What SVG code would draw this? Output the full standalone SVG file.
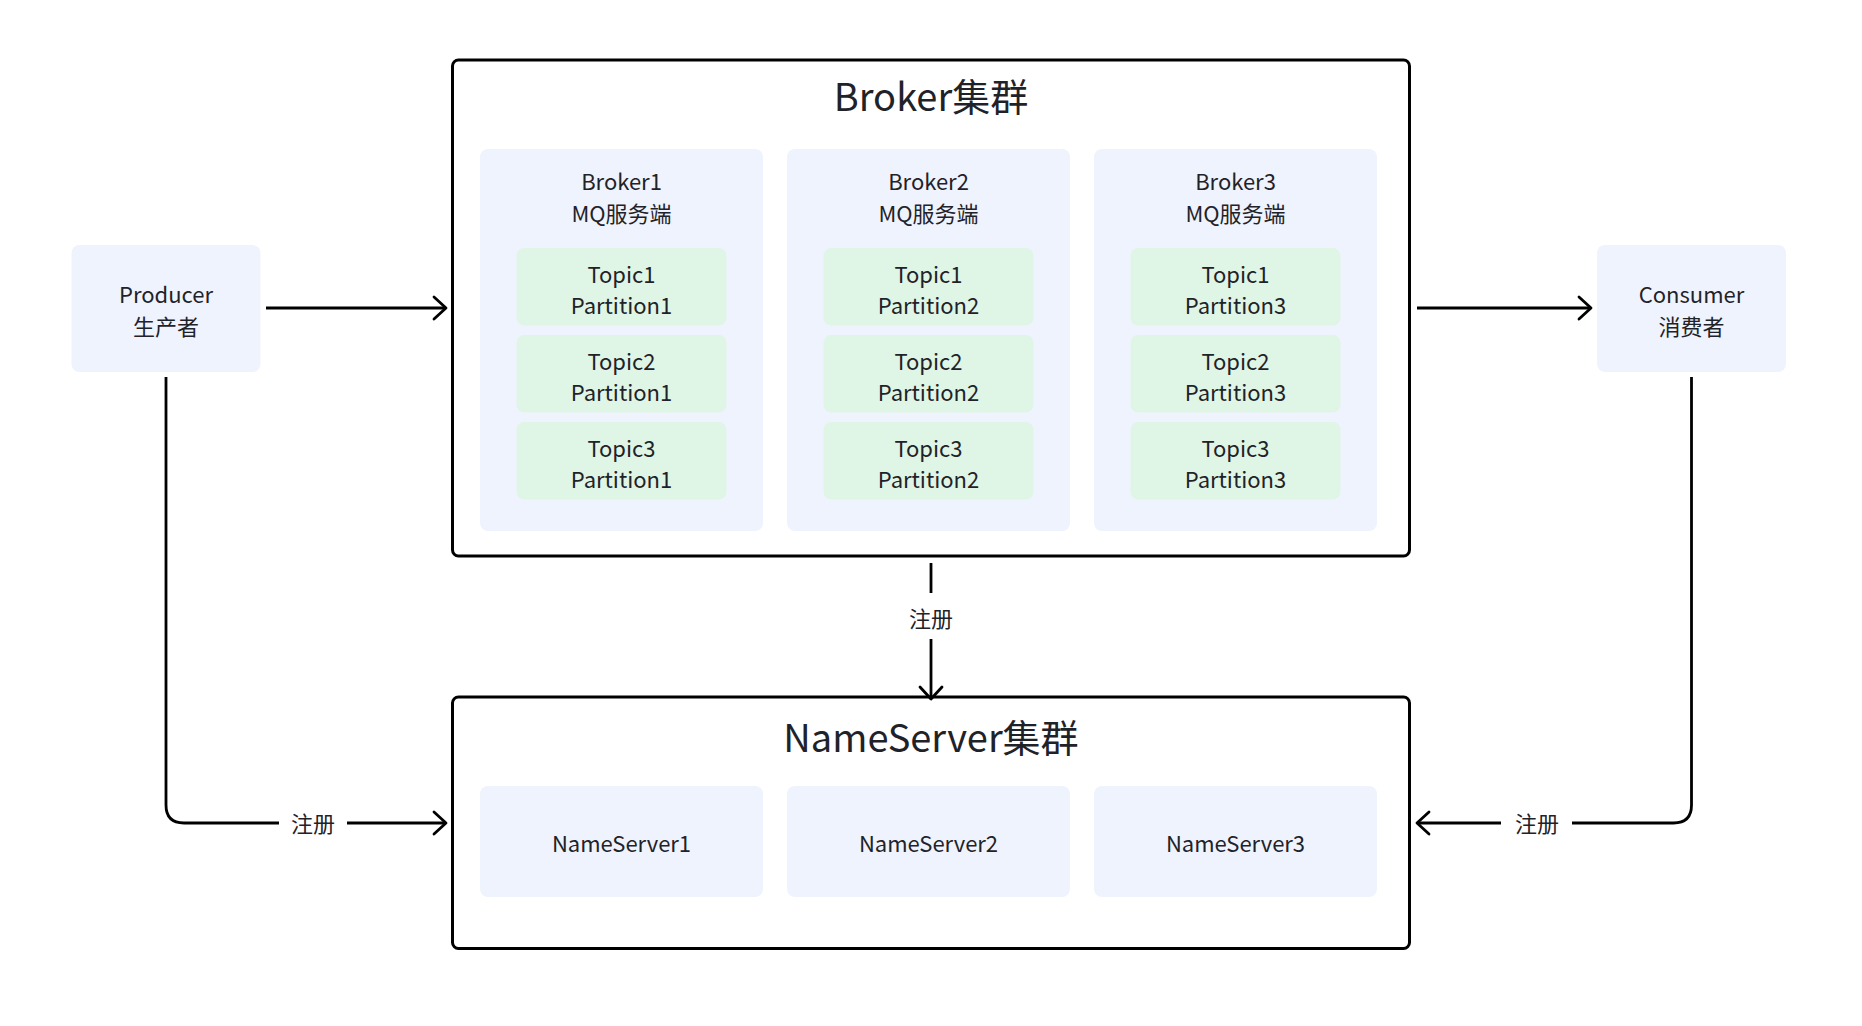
<svg xmlns="http://www.w3.org/2000/svg" width="1862" height="1026" viewBox="0 0 1862 1026">
<defs>
<style>
text{font-family:"Noto Sans CJK SC","Noto Sans",sans-serif;fill:#1f2329;text-anchor:middle}
.t{font-size:22px}
.h{font-size:38px}
.cluster{fill:#fff;stroke:#000;stroke-width:3}
.col{fill:#eff3fd}
.topic{fill:#dff5e5}
.box{fill:#eff3fd}
.ln{fill:none;stroke:#000;stroke-width:2.8}
</style>
<marker id="arr" viewBox="-16 -16 32 32" markerWidth="32" markerHeight="32" refX="0" refY="0" markerUnits="userSpaceOnUse" orient="auto">
<path d="M-12,-11 L0,0 L-12,11" fill="none" stroke="#000" stroke-width="2.8" stroke-linecap="round" stroke-linejoin="round"/>
</marker>
</defs>
<rect width="1862" height="1026" fill="#fff"/>

<g id="producer">
<rect class="box" x="71.5" y="245" width="189" height="127" rx="8"/>
<text class="t" x="166" y="303">Producer</text>
<text class="t" x="166" y="334.5">生产者</text>
</g>

<g id="consumer">
<rect class="box" x="1597" y="245" width="189" height="127" rx="8"/>
<text class="t" x="1691.5" y="303">Consumer</text>
<text class="t" x="1691.5" y="334.5">消费者</text>
</g>

<g id="broker-cluster">
<rect class="cluster" x="452.5" y="60" width="957" height="496" rx="6"/>
<text class="h" x="931" y="110.5">Broker集群</text>
</g>

<g id="broker1">
<rect class="col" x="480" y="149" width="283" height="382" rx="8"/>
<text class="t" x="621.5" y="190.3">Broker1</text>
<text class="t" x="621.5" y="222">MQ服务端</text>
<g id="b1-t1"><rect class="topic" x="516.5" y="248" width="210" height="77.5" rx="8"/><text class="t" x="621.5" y="282.6">Topic1</text><text class="t" x="621.5" y="314.1">Partition1</text></g>
<g id="b1-t2"><rect class="topic" x="516.5" y="335" width="210" height="77.5" rx="8"/><text class="t" x="621.5" y="369.6">Topic2</text><text class="t" x="621.5" y="401.1">Partition1</text></g>
<g id="b1-t3"><rect class="topic" x="516.5" y="422" width="210" height="77.5" rx="8"/><text class="t" x="621.5" y="456.6">Topic3</text><text class="t" x="621.5" y="488.1">Partition1</text></g>
</g>

<g id="broker2">
<rect class="col" x="787" y="149" width="283" height="382" rx="8"/>
<text class="t" x="928.5" y="190.3">Broker2</text>
<text class="t" x="928.5" y="222">MQ服务端</text>
<g id="b2-t1"><rect class="topic" x="823.5" y="248" width="210" height="77.5" rx="8"/><text class="t" x="928.5" y="282.6">Topic1</text><text class="t" x="928.5" y="314.1">Partition2</text></g>
<g id="b2-t2"><rect class="topic" x="823.5" y="335" width="210" height="77.5" rx="8"/><text class="t" x="928.5" y="369.6">Topic2</text><text class="t" x="928.5" y="401.1">Partition2</text></g>
<g id="b2-t3"><rect class="topic" x="823.5" y="422" width="210" height="77.5" rx="8"/><text class="t" x="928.5" y="456.6">Topic3</text><text class="t" x="928.5" y="488.1">Partition2</text></g>
</g>

<g id="broker3">
<rect class="col" x="1094" y="149" width="283" height="382" rx="8"/>
<text class="t" x="1235.5" y="190.3">Broker3</text>
<text class="t" x="1235.5" y="222">MQ服务端</text>
<g id="b3-t1"><rect class="topic" x="1130.5" y="248" width="210" height="77.5" rx="8"/><text class="t" x="1235.5" y="282.6">Topic1</text><text class="t" x="1235.5" y="314.1">Partition3</text></g>
<g id="b3-t2"><rect class="topic" x="1130.5" y="335" width="210" height="77.5" rx="8"/><text class="t" x="1235.5" y="369.6">Topic2</text><text class="t" x="1235.5" y="401.1">Partition3</text></g>
<g id="b3-t3"><rect class="topic" x="1130.5" y="422" width="210" height="77.5" rx="8"/><text class="t" x="1235.5" y="456.6">Topic3</text><text class="t" x="1235.5" y="488.1">Partition3</text></g>
</g>

<g id="nameserver-cluster">
<rect class="cluster" x="452.5" y="697" width="957" height="251.5" rx="6"/>
<text class="h" x="931" y="751.5">NameServer集群</text>
</g>
<g id="ns1"><rect class="box" x="480" y="786" width="283" height="111" rx="8"/><text class="t" x="621.5" y="852">NameServer1</text></g>
<g id="ns2"><rect class="box" x="787" y="786" width="283" height="111" rx="8"/><text class="t" x="928.5" y="852">NameServer2</text></g>
<g id="ns3"><rect class="box" x="1094" y="786" width="283" height="111" rx="8"/><text class="t" x="1235.5" y="852">NameServer3</text></g>

<g id="connectors">
<path class="ln" d="M266,308 H446" marker-end="url(#arr)"/>
<path class="ln" d="M1417,308 H1591" marker-end="url(#arr)"/>
<path class="ln" d="M931,563 V593"/>
<path class="ln" d="M931,639 V699" marker-end="url(#arr)"/>
<text class="t" x="931" y="626.5">注册</text>
<path class="ln" d="M166,377 V805 Q166,823 184,823 H279"/>
<path class="ln" d="M347,823 H446" marker-end="url(#arr)"/>
<text class="t" x="313" y="832">注册</text>
<path class="ln" d="M1691.5,377 V805 Q1691.5,823 1673.5,823 H1572"/>
<path class="ln" d="M1501,823 H1417" marker-end="url(#arr)"/>
<text class="t" x="1537" y="832">注册</text>
</g>
</svg>
